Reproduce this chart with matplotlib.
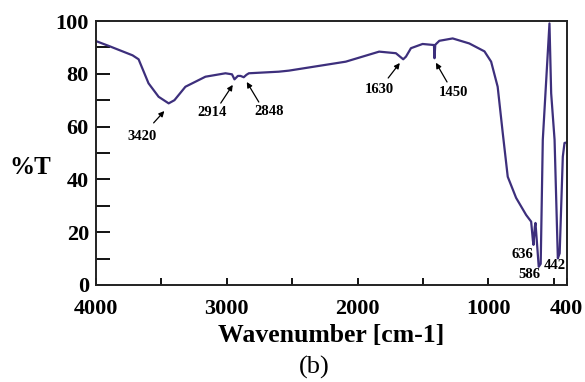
import matplotlib
matplotlib.use('Agg')
import matplotlib.pyplot as plt

# FTIR spectrum
wavenumber = [4000, 3904, 3720, 3674, 3598, 3521, 3444, 3400, 3316, 3163, 3010, 2960, 2941,
              2915, 2895, 2870, 2850, 2831, 2602, 2525, 2090, 1835, 1707, 1651, 1630,
              1592, 1503, 1416, 1412, 1406, 1375, 1273, 1146, 1030, 979, 929, 890, 852, 788,
              711, 673, 660, 655, 645, 640, 615, 600, 584, 533, 520, 494, 469, 455,
              431, 418, 400]
transmittance = [92.4, 90.6, 87.0, 85.5, 76.4, 71.3, 68.8, 70.0, 75.1, 78.9, 80.2, 79.8, 77.9,
                 79.2, 79.2, 78.7, 79.6, 80.2, 80.8, 81.2, 84.6, 88.4, 87.8, 85.5, 86.5,
                 89.7, 91.3, 90.9, 85.9, 91.0, 92.5, 93.4, 91.5, 88.5, 84.6, 75.1, 57.5, 41.0, 33.0,
                 26.5, 24.0, 17.0, 15.2, 22.0, 23.5, 6.9, 8.0, 55.0, 99.1, 72.6, 55.0, 10.1, 12.0,
                 48.6, 53.8, 54.0]

# peak labels: (text, text x, text y, arrow tail, arrow head)
arrow_peaks = [
    ('3420', 3644, 56.1, (3559, 61.4), (3477, 65.9)),
    ('2914', 3115, 65.5, (3046, 68.9), (2954, 75.8)),
    ('2848', 2678, 65.9, (2755, 69.3), (2847, 76.9)),
    ('1630', 1835, 73.9, (1766, 78.4), (1677, 84.1)),
    ('1450', 1268, 73.1, (1316, 76.9), (1401, 84.2)),
]
plain_peaks = [('636', 742, 11.7), ('586', 686, 3.8), ('442', 494, 7.2)]

plt.rcParams['font.family'] = ['Liberation Serif', 'DejaVu Serif']

fig = plt.figure(figsize=(5.85, 3.82), dpi=100)
ax = fig.add_axes([0.164, 0.254, 0.805, 0.691])

ax.plot(wavenumber, transmittance, color='#3d2f7c', lw=1.6)

for lab, tx, ty, tail, head in arrow_peaks:
    ax.annotate('', xy=head, xytext=tail,
                arrowprops=dict(arrowstyle='-|>', color='black', lw=0.9,
                                mutation_scale=8, shrinkA=0, shrinkB=0))
    ax.text(tx, ty, lab, ha='center', va='center', fontsize=10.5, fontweight='bold')
for lab, tx, ty in plain_peaks:
    ax.text(tx, ty, lab, ha='center', va='center', fontsize=10.5, fontweight='bold')

ax.set_xlim(4000, 400)
ax.set_ylim(0, 100)
ax.set_xticks([4000, 3000, 2000, 1000, 400])
ax.set_xticklabels(['4000', '3000', '2000', '1000', '400'])
ax.set_xticks([3500, 2500, 1500, 500], minor=True)
ax.set_yticks(range(0, 101, 20))
ax.set_yticks(range(10, 100, 20), minor=True)
ax.tick_params(axis='x', which='both', direction='in', length=5, width=1.3, pad=10)
ax.tick_params(axis='y', which='both', direction='in', length=10, width=1.3, pad=5)
for t in ax.get_xticklabels() + ax.get_yticklabels():
    t.set_fontsize(16)
    t.set_fontweight('bold')
for s in ax.spines.values():
    s.set_linewidth(1.4)
    s.set_color('#222222')

ax.set_xlabel('Wavenumber [cm-1]', fontsize=18.5, fontweight='bold', labelpad=4)
fig.text(0.051, 0.562, '%T', fontsize=18, fontweight='bold', ha='center', va='center')
fig.text(0.538, 0.037, '(b)', fontsize=19, ha='center', va='center')

fig.savefig('out.png', dpi=100)
